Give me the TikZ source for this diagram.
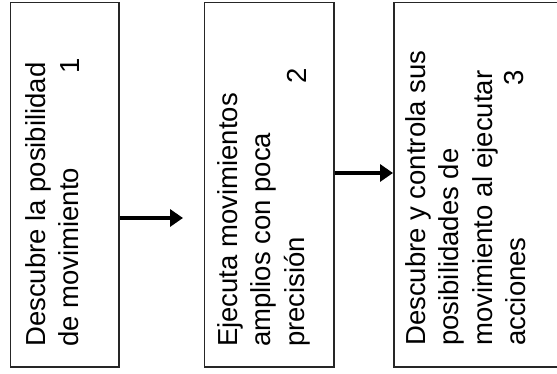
\documentclass[tikz,border=0pt]{standalone}
\usepackage{fontspec}
\setmainfont{Liberation Sans}
\usetikzlibrary{arrows.meta}
\begin{document}
\begin{tikzpicture}[x=1pt,y=1pt,
  box/.style={draw=black!85, line width=1.5pt, inner sep=0pt, anchor=south west, minimum height=364.7pt},
  txt/.style={rotate=90, anchor=north west, inner sep=0pt, align=left, font=\fontsize{27.5}{33.3}\selectfont},
  num/.style={rotate=90, anchor=base east, inner sep=0pt, font=\fontsize{27.5}{33.3}\selectfont},
  arr/.style={line width=3.5pt, -{Triangle[length=13pt 0, width=17pt 0]}}]
\clip (0,0) rectangle (557,374);
\fill[white] (0,0) rectangle (557,374);
% boxes
\node[box, minimum width=108.8pt] (b1) at (9.5,6) {};
\node[box, minimum width=129.5pt] (b2) at (203.5,6) {};
\node[box, minimum width=180pt] (b3) at (393,6) {};
% texts
\node[txt] (t1) at (25.3,27) {Descubre la posibilidad\\de movimiento};
\node[txt] (t2) at (217.3,27) {Ejecuta movimientos\\amplios con poca\\precisión};
\node[txt] (t3) at (405.3,28) {Descubre y controla sus\\posibilidades de\\movimiento al ejecutar\\acciones};
\node[num] (n1) at (79,316) {1};
\node[num] (n2) at (306,306) {2};
\node[num] (n3) at (523,304) {3};
% connectors
\coordinate (a1) at (183,156);
\coordinate (a2) at (0,201);
\draw[arr] (b1.east |- a1) -- (a1);
\draw[arr] (b2.east |- a2) -- (b3.west |- a2);
\end{tikzpicture}
\end{document}
